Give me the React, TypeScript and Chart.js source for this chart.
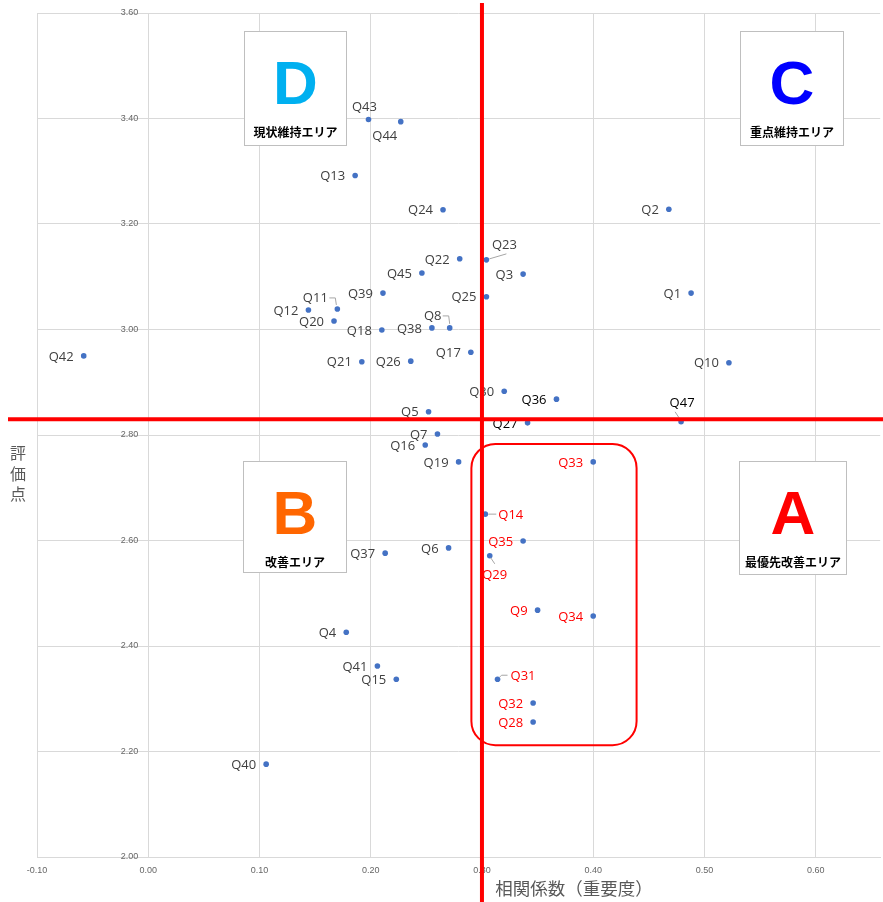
import React, { useEffect, useRef } from 'react';
import { Chart, registerables } from 'chart.js';

Chart.register(...registerables);

// ---------- data ----------
const questionLabels = [
  'Q1', 'Q2', 'Q3', 'Q4', 'Q5', 'Q6', 'Q7', 'Q8', 'Q9', 'Q10',
  'Q11', 'Q12', 'Q13', 'Q14', 'Q15', 'Q16', 'Q17', 'Q18', 'Q19', 'Q20',
  'Q21', 'Q22', 'Q23', 'Q24', 'Q25', 'Q26', 'Q27', 'Q28', 'Q29', 'Q30',
  'Q31', 'Q32', 'Q33', 'Q34', 'Q35', 'Q36', 'Q37', 'Q38', 'Q39', 'Q40',
  'Q41', 'Q42', 'Q43', 'Q44', 'Q45', 'Q47',
];
// 相関係数（重要度）
const correlationValues = [
  0.488, 0.468, 0.337, 0.178, 0.252, 0.270, 0.260, 0.271, 0.350, 0.522,
  0.170, 0.144, 0.186, 0.303, 0.223, 0.249, 0.290, 0.210, 0.279, 0.167,
  0.192, 0.280, 0.304, 0.265, 0.304, 0.236, 0.341, 0.346, 0.307, 0.320,
  0.314, 0.346, 0.400, 0.400, 0.337, 0.367, 0.213, 0.255, 0.211, 0.106,
  0.206, -0.058, 0.198, 0.227, 0.246, 0.479,
];
// 評価点
const scoreValues = [
  3.069, 3.228, 3.105, 2.426, 2.844, 2.586, 2.802, 3.003, 2.468, 2.937,
  3.039, 3.037, 3.292, 2.650, 2.337, 2.781, 2.957, 2.999, 2.749, 3.016,
  2.939, 3.134, 3.132, 3.227, 3.062, 2.940, 2.823, 2.256, 2.571, 2.883,
  2.337, 2.292, 2.749, 2.457, 2.599, 2.868, 2.576, 3.003, 3.069, 2.176,
  2.362, 2.950, 3.398, 3.394, 3.107, 2.825,
];
const redLabels = ['Q9', 'Q14', 'Q28', 'Q29', 'Q31', 'Q32', 'Q33', 'Q34', 'Q35'];
const blackLabels = ['Q27', 'Q36', 'Q47'];

const xAxisTitle = '相関係数（重要度）';
const yAxisTitle = '評価点';

const xMin = -0.1;
const xMax = 0.658;
const xStep = 0.1;
const yMin = 2.0;
const yMax = 3.6;
const yStep = 0.2;

// quadrant dividing lines (data units)
const thresholdX = 0.3;
const thresholdY = 2.83;

const quadrantLetters = ['D', 'C', 'B', 'A'];
const quadrantCaptions = ['現状維持エリア', '重点維持エリア', '改善エリア', '最優先改善エリア'];
const quadrantColors = ['#00B0F0', '#0000FF', '#FF6600', '#FF0000'];

// ---------- annotation geometry (data units) ----------
// [xLeft, xRight, yBottom, yTop]
const quadrantBoxExtents = [
  [0.086, 0.178, 3.349, 3.565],
  [0.532, 0.625, 3.349, 3.565],
  [0.085, 0.178, 2.541, 2.751],
  [0.531, 0.627, 2.537, 2.750],
];
const focusBoxExtent = [0.2905, 0.439, 2.212, 2.783];

// ---------- label styling ----------
type Placement = { dx: number; dy: number; align: CanvasTextAlign; leader?: number[][] };
const defaultPlacement: Placement = { dx: -10, dy: 1, align: 'right' };
const labelPlacements: Record<string, Placement> = {
  Q43: { dx: -4, dy: -12, align: 'center' },
  Q44: { dx: -16, dy: 15, align: 'center' },
  Q23: { dx: 18, dy: -15, align: 'center', leader: [[3, -1], [20, -6]] },
  Q11: { dx: -22, dy: -11, align: 'center', leader: [[-8, -11], [-2, -11], [-1, -4]] },
  Q8: { dx: -17, dy: -12, align: 'center', leader: [[-7, -12], [-1, -12], [0, -4]] },
  Q47: { dx: 1, dy: -19, align: 'center', leader: [[-2, -4], [-6, -10]] },
  Q14: { dx: 13, dy: 1, align: 'left', leader: [[3, 0], [11, 0]] },
  Q29: { dx: 5, dy: 19, align: 'center', leader: [[1, 2], [5, 8]] },
  Q31: { dx: 13, dy: -3, align: 'left', leader: [[2, -2], [4, -4], [10, -4]] },
};

const overlayPlugin = {
  id: 'quadrantOverlay',
  beforeDatasetsDraw(chart: any) {
    const { ctx } = chart;
    const xs = chart.scales.x;
    const ys = chart.scales.y;
    ctx.save();
    quadrantBoxExtents.forEach((ext, i) => {
      const l = Math.round(xs.getPixelForValue(ext[0])) + 0.5;
      const r = Math.round(xs.getPixelForValue(ext[1])) + 0.5;
      const b = Math.round(ys.getPixelForValue(ext[2])) + 0.5;
      const t = Math.round(ys.getPixelForValue(ext[3])) + 0.5;
      ctx.fillStyle = '#ffffff';
      ctx.fillRect(l, t, r - l, b - t);
      ctx.strokeStyle = '#bfbfbf';
      ctx.lineWidth = 1;
      ctx.strokeRect(l, t, r - l, b - t);
      const cx = (l + r) / 2;
      ctx.fillStyle = quadrantColors[i];
      ctx.font = 'bold 62px "Liberation Sans", Arial, sans-serif';
      ctx.textAlign = 'center';
      ctx.textBaseline = 'alphabetic';
      ctx.fillText(quadrantLetters[i], cx, t + 72);
      ctx.fillStyle = '#000000';
      ctx.font = 'bold 12px "Noto Sans CJK JP", sans-serif';
      ctx.textBaseline = 'middle';
      ctx.fillText(quadrantCaptions[i], cx, t + 101);
    });
    ctx.restore();
  },
  afterDatasetsDraw(chart: any) {
    const { ctx } = chart;
    const meta = chart.getDatasetMeta(0);
    ctx.save();
    meta.data.forEach((pt: any, i: number) => {
      const name = questionLabels[i];
      const p = labelPlacements[name] || defaultPlacement;
      if (p.leader) {
        ctx.strokeStyle = '#a6a6a6';
        ctx.lineWidth = 1;
        ctx.beginPath();
        p.leader.forEach((o, k) => {
          const lx = pt.x + o[0];
          const ly = pt.y + o[1];
          if (k === 0) ctx.moveTo(lx, ly);
          else ctx.lineTo(lx, ly);
        });
        ctx.stroke();
      }
      ctx.font = '13px "Open Sans", sans-serif';
      ctx.textAlign = p.align;
      ctx.textBaseline = 'middle';
      ctx.fillStyle = redLabels.includes(name)
        ? '#FF0000'
        : blackLabels.includes(name)
        ? '#000000'
        : '#404040';
      ctx.fillText(name, pt.x + p.dx, pt.y + p.dy);
    });
    ctx.restore();
  },
  afterDraw(chart: any) {
    const { ctx, chartArea, width, height } = chart;
    const xs = chart.scales.x;
    const ys = chart.scales.y;
    ctx.save();
    // y tick labels drawn along the x = 0 axis
    const x0 = xs.getPixelForValue(0);
    ctx.font = '9px "Liberation Sans", Arial, sans-serif';
    ctx.fillStyle = '#666666';
    ctx.textAlign = 'right';
    ctx.textBaseline = 'middle';
    ys.ticks.forEach((t: any) => {
      ctx.fillText(Number(t.value).toFixed(2), x0 - 10, ys.getPixelForValue(t.value));
    });
    // y axis title (stacked vertical characters)
    ctx.font = '16px "Noto Sans CJK JP", sans-serif';
    ctx.fillStyle = '#595959';
    ctx.textAlign = 'center';
    const chars = Array.from(yAxisTitle);
    const midY = (chartArea.top + chartArea.bottom) / 2;
    chars.forEach((c, k) => {
      ctx.fillText(c, chartArea.left - 19, midY + 18 + k * 20.5);
    });
    // x axis title
    ctx.font = '17.5px "Noto Sans CJK JP", sans-serif';
    ctx.fillText(xAxisTitle, chartArea.left + (chartArea.right - chartArea.left) * 0.637, height - 14);

    // red quadrant dividers
    const vx = xs.getPixelForValue(thresholdX);
    const hy = ys.getPixelForValue(thresholdY);
    ctx.strokeStyle = '#FF0000';
    ctx.lineWidth = 4;
    ctx.beginPath();
    ctx.moveTo(vx, chartArea.top - 10);
    ctx.lineTo(vx, height);
    ctx.stroke();
    ctx.beginPath();
    ctx.moveTo(chartArea.left - 29, hy);
    ctx.lineTo(width, hy);
    ctx.stroke();

    // red rounded focus box
    const l = xs.getPixelForValue(focusBoxExtent[0]);
    const r = xs.getPixelForValue(focusBoxExtent[1]);
    const b = ys.getPixelForValue(focusBoxExtent[2]);
    const t = ys.getPixelForValue(focusBoxExtent[3]);
    ctx.lineWidth = 2;
    ctx.beginPath();
    ctx.roundRect(l, t, r - l, b - t, 24);
    ctx.stroke();
    ctx.restore();
  },
};

export default function App() {
  const canvasRef = useRef<HTMLCanvasElement | null>(null);

  useEffect(() => {
    document.body.style.margin = '0';
    const canvas = canvasRef.current;
    if (!canvas) return;
    const points = questionLabels.map((_, i) => ({ x: correlationValues[i], y: scoreValues[i] }));
    const chart = new Chart(canvas, {
      type: 'scatter',
      data: {
        datasets: [
          {
            label: '評価点',
            data: points,
            pointRadius: 2.8,
            pointHoverRadius: 2.8,
            pointBackgroundColor: '#4472C4',
            pointBorderWidth: 0,
            borderWidth: 0,
          },
        ],
      },
      options: {
        responsive: false,
        animation: false,
        devicePixelRatio: 1,
        layout: { padding: { left: 37, top: 13, right: 1, bottom: 0 } },
        plugins: {
          legend: { display: false },
          tooltip: { enabled: false },
        },
        scales: {
          x: {
            type: 'linear',
            position: 'bottom',
            min: xMin,
            max: xMax,
            ticks: {
              stepSize: xStep,
              includeBounds: false,
              autoSkip: false,
              maxRotation: 0,
              padding: 8,
              color: '#666666',
              font: { family: '"Liberation Sans", Arial, sans-serif', size: 9 },
              callback: (v: any) => Number(v).toFixed(2),
            },
            grid: { color: '#d9d9d9', lineWidth: 1, drawTicks: false },
            border: { display: true, color: '#d9d9d9' },
            afterFit: (s: any) => {
              s.height = 45;
            },
          },
          y: {
            type: 'linear',
            min: yMin,
            max: yMax,
            ticks: { stepSize: yStep, display: false },
            grid: { color: '#d9d9d9', lineWidth: 1, drawTicks: false },
            border: { display: false },
            afterFit: (s: any) => {
              s.width = 0;
            },
          },
        },
      },
      plugins: [overlayPlugin],
    });
    return () => chart.destroy();
  }, []);

  return (
    <div style={{ position: 'absolute', left: 0, top: 0, width: 883, height: 902, background: '#fff' }}>
      <canvas ref={canvasRef} width={883} height={902} style={{ display: 'block' }} />
    </div>
  );
}
